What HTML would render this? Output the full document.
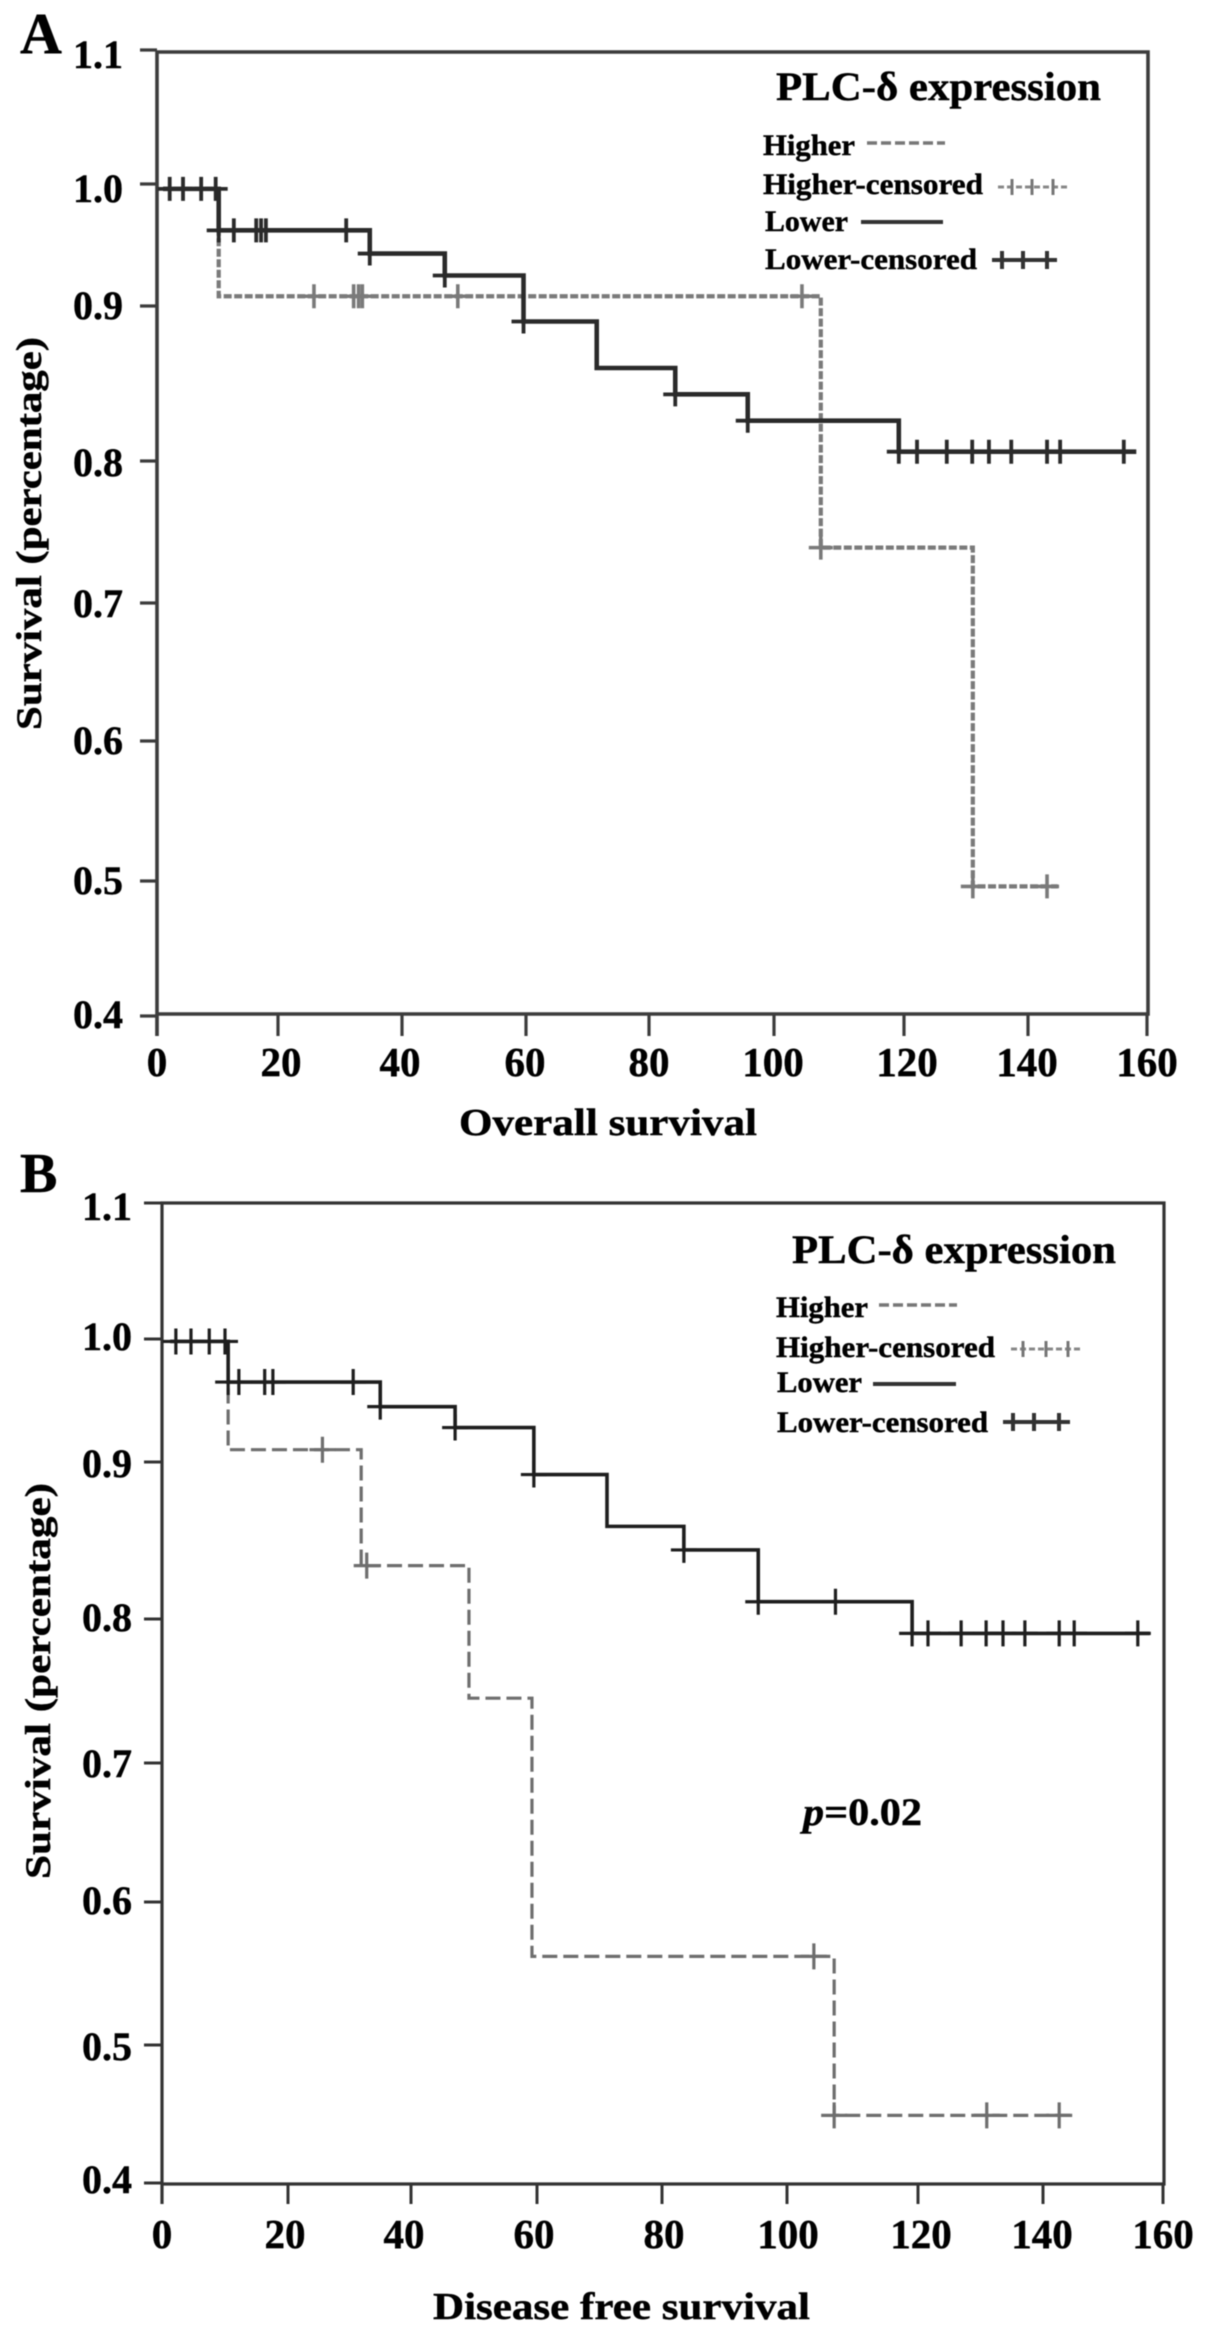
<!DOCTYPE html>
<html lang="en">
<head>
<meta charset="utf-8">
<title>PLC-δ expression survival curves</title>
<style>
html,body{margin:0;padding:0;background:#fff;}
svg{display:block;filter:blur(0.65px);}
text{font-family:"Liberation Serif","DejaVu Serif",serif;font-weight:bold;fill:#000;stroke:#000;stroke-width:0.45px;}
</style>
</head>
<body>
<svg id="figure" xmlns="http://www.w3.org/2000/svg" width="1205" height="2328" viewBox="0 0 1205 2328">
  <rect x="0" y="0" width="1205" height="2328" fill="#fff"/>

  <g id="panel-a">
    <text x="20" y="53" font-size="58">A</text>
    <text transform="rotate(-90 41 730)" x="41" y="730" font-size="36" textLength="393" lengthAdjust="spacingAndGlyphs">Survival (percentage)</text>
    <text x="459" y="1135" font-size="38" textLength="298" lengthAdjust="spacingAndGlyphs">Overall survival</text>
    <g>
      <text x="776" y="100" font-size="40" textLength="325" lengthAdjust="spacingAndGlyphs">PLC-δ expression</text>
      <text x="763" y="155" font-size="30" textLength="92" lengthAdjust="spacingAndGlyphs">Higher</text>
      <line x1="867" y1="143" x2="945" y2="143" stroke="#777" stroke-width="3.5" stroke-dasharray="10 4"/>
      <text x="763" y="194" font-size="30" textLength="220" lengthAdjust="spacingAndGlyphs">Higher-censored</text>
      <line x1="998" y1="187" x2="1068" y2="187" stroke="#888" stroke-width="3" stroke-dasharray="6 3"/>
      <path d="M1012 179V195M1032 179V195M1053 179V195" stroke="#777" stroke-width="3" fill="none"/>
      <text x="765" y="231" font-size="30" textLength="83" lengthAdjust="spacingAndGlyphs">Lower</text>
      <line x1="861" y1="222" x2="943" y2="222" stroke="#333" stroke-width="4"/>
      <text x="765" y="269" font-size="30" textLength="212" lengthAdjust="spacingAndGlyphs">Lower-censored</text>
      <line x1="992" y1="260" x2="1057" y2="260" stroke="#333" stroke-width="4"/>
      <path d="M1002 251V269M1023 251V269M1047 251V269" stroke="#333" stroke-width="4" fill="none"/>
    </g>
  </g>

  <g id="panel-b">
    <text x="20" y="1192" font-size="56">B</text>
    <text transform="rotate(-90 50 1879)" x="50" y="1879" font-size="36" textLength="396" lengthAdjust="spacingAndGlyphs">Survival (percentage)</text>
    <text x="433" y="2319" font-size="38" textLength="377" lengthAdjust="spacingAndGlyphs">Disease free survival</text>
    <text x="803" y="1825" font-size="39" textLength="119" lengthAdjust="spacingAndGlyphs"><tspan font-style="italic">p</tspan>=0.02</text>
    <g>
      <text x="792" y="1263" font-size="40" textLength="324" lengthAdjust="spacingAndGlyphs">PLC-δ expression</text>
      <text x="776" y="1317" font-size="30" textLength="92" lengthAdjust="spacingAndGlyphs">Higher</text>
      <line x1="879" y1="1305" x2="957" y2="1305" stroke="#777" stroke-width="3.5" stroke-dasharray="10 4"/>
      <text x="776" y="1357" font-size="30" textLength="219" lengthAdjust="spacingAndGlyphs">Higher-censored</text>
      <line x1="1011" y1="1349" x2="1081" y2="1349" stroke="#888" stroke-width="3" stroke-dasharray="6 3"/>
      <path d="M1023 1341V1357M1046 1341V1357M1068 1341V1357" stroke="#777" stroke-width="3" fill="none"/>
      <text x="777" y="1392" font-size="30" textLength="85" lengthAdjust="spacingAndGlyphs">Lower</text>
      <line x1="873" y1="1384" x2="956" y2="1384" stroke="#333" stroke-width="4"/>
      <text x="777" y="1432" font-size="30" textLength="211" lengthAdjust="spacingAndGlyphs">Lower-censored</text>
      <line x1="1003" y1="1422" x2="1070" y2="1422" stroke="#333" stroke-width="4"/>
      <path d="M1013 1413V1431M1034 1413V1431M1059 1413V1431" stroke="#333" stroke-width="4" fill="none"/>
    </g>
  </g>
</svg>

<script>
// ---- shared axis values ----
const xTickValues = [0, 20, 40, 60, 80, 100, 120, 140, 160];
const xTickLabels = ['0', '20', '40', '60', '80', '100', '120', '140', '160'];
const yTickValues = [1.1, 1.0, 0.9, 0.8, 0.7, 0.6, 0.5, 0.4];
const yTickLabels = ['1.1', '1.0', '0.9', '0.8', '0.7', '0.6', '0.5', '0.4'];

// ---- panel A: overall survival ----
const panelALowerTimes = [1, 10.2, 34.8, 46.9, 59.6, 71.5, 84.2, 95.8, 119.2, 158.2];
const panelALowerSurvival = [0.996, 0.962, 0.943, 0.925, 0.890, 0.860, 0.843, 0.826, 0.806, 0.806];
const panelALowerCensored = [2.1, 4.3, 7.3, 9.7, 10.2, 12.7, 16.4, 17.2, 18, 31, 34.8, 46.9, 59.6, 84.2, 95.8, 119.2, 122.1, 126.9, 131, 133.7, 137.3, 143.2, 145.4, 156.1];
const panelAHigherTimes = [1, 10.2, 107.2, 131.1, 145];
const panelAHigherSurvival = [0.996, 0.908, 0.739, 0.496, 0.496];
const panelAHigherCensored = [25.8, 32.2, 33, 33.6, 49, 104.3, 107.2, 131.1, 143.2];

// ---- panel B: disease free survival ----
const panelBLowerTimes = [1.3, 10.5, 35, 47, 59.5, 71.2, 83.5, 95.4, 119.1, 157.8];
const panelBLowerSurvival = [0.998, 0.965, 0.945, 0.928, 0.892, 0.859, 0.844, 0.811, 0.790, 0.790];
const panelBLowerCensored = [2.2, 4.6, 7.5, 10, 10.5, 12.2, 16.3, 17.6, 30.6, 35, 47, 59.5, 83.5, 95.4, 107.4, 119.1, 121.6, 126.9, 130.9, 133.6, 137.1, 142.7, 145.2, 155.8];
const panelBHigherTimes = [1.3, 10.5, 31.9, 49.2, 59.2, 107.2, 144.8];
const panelBHigherSurvival = [0.998, 0.910, 0.834, 0.745, 0.562, 0.449, 0.449];
const panelBHigherCensored = [25.6, 32.8, 104.1, 107.2, 131, 142.7];

const SVGNS = 'http://www.w3.org/2000/svg';

// Axis function: the scanned axes are slightly uneven, so each one is calibrated at its ticks.
function makeAxis(values, pixels) {
  const pairs = values.map(function (v, i) { return [v, pixels[i]]; }).sort(function (a, b) { return a[0] - b[0]; });
  return function (v) {
    let i = 0;
    while (i < pairs.length - 2 && v > pairs[i + 1][0]) i++;
    const a = pairs[i], b = pairs[i + 1];
    return a[1] + (v - a[0]) / (b[0] - a[0]) * (b[1] - a[1]);
  };
}

function levelAt(times, survival, t) {
  let level = survival[0];
  for (let i = 0; i < times.length; i++) {
    if (t >= times[i]) level = survival[i];
  }
  return level;
}

function make(tag, parent, props) {
  const el = document.createElementNS(SVGNS, tag);
  Object.keys(props).forEach(function (k) { el.setAttribute(k, props[k]); });
  parent.appendChild(el);
  return el;
}

function drawFrame(group, frame, x, y, prefix) {
  const box = make('path', group, {
    d: 'M' + frame.left + ' ' + frame.tickBottom + 'V' + frame.top + 'H' + frame.right + 'V' + frame.bottom + 'H' + frame.left,
    fill: 'none', stroke: frame.axisColor, 'stroke-width': frame.axisWidth
  });
  
  

  xTickValues.forEach(function (v, i) {
    const px = x(v);
    const tick = make('line', group, {
      x1: px, x2: px, y1: frame.bottom, y2: frame.tickBottom,
      stroke: frame.axisColor, 'stroke-width': frame.tickWidth
    });
    
    
    const label = make('text', group, {
      x: px + frame.xLabelShift[i], y: frame.xLabelBaseline,
      'font-size': frame.xTickFont, 'text-anchor': 'middle'
    });
    label.textContent = xTickLabels[i];
    
    
  });

  yTickValues.forEach(function (v, i) {
    const py = y(v);
    const tick = make('line', group, {
      x1: frame.tickLeft, x2: frame.left, y1: py, y2: py,
      stroke: frame.axisColor, 'stroke-width': frame.tickWidth
    });
    
    
    const label = make('text', group, {
      x: frame.yLabelRight, y: py + frame.yLabelShift[i],
      'font-size': frame.yTickFont, 'text-anchor': 'end'
    });
    label.textContent = yTickLabels[i];
    
    
  });
}

function drawCurve(group, times, survival, x, y, style, name) {
  let d = 'M' + x(times[0]) + ' ' + y(survival[0]);
  for (let i = 1; i < times.length; i++) {
    d += 'H' + x(times[i]) + 'V' + y(survival[i]);
  }
  const curve = make('path', group, {
    d: d, fill: 'none', stroke: style.color, 'stroke-width': style.width,
    'stroke-dasharray': style.dash, 'stroke-linejoin': 'miter'
  });
  
  
}

function drawCensored(group, censored, times, survival, x, y, style, name) {
  censored.forEach(function (t) {
    const px = x(t);
    const py = y(levelAt(times, survival, t));
    const mark = make('path', group, {
      d: 'M' + (px - style.size) + ' ' + py + 'H' + (px + style.size) + 'M' + px + ' ' + (py - style.size) + 'V' + (py + style.size),
      fill: 'none', stroke: style.color, 'stroke-width': style.markWidth
    });
    
    
  });
}

// ---- panel A drawing ----
const frameA = {
  left: 157, right: 1148, top: 52, bottom: 1014, tickLeft: 140, tickBottom: 1036,
  axisColor: '#3c3c3c', axisWidth: 3.6, tickWidth: 3.2, xTickFont: 41, yTickFont: 40,
  xLabelBaseline: 1076, yLabelRight: 123,
  xLabelShift: [0, 3, -2, -1, 0, -1, 3, -1, 0],
  yLabelShift: [18, 18, 13, 15, 14, 13, 13, 12]
};
const xA = makeAxis(xTickValues, [157, 278, 402, 526, 649, 774, 904, 1028, 1147]);
const yA = makeAxis(yTickValues, [50, 184, 306, 461, 603, 741, 881, 1016]);
const groupA = document.getElementById('panel-a');
const higherStyleA = { color: '#7a7a7a', width: 4.2, dash: '8 2.5', size: 12, markWidth: 3.6 };
const lowerStyleA = { color: '#2a2a2a', width: 4.6, dash: 'none', size: 12, markWidth: 3.8 };

drawFrame(groupA, frameA, xA, yA, 'panel-a');
drawCurve(groupA, panelAHigherTimes, panelAHigherSurvival, xA, yA, higherStyleA, 'panel-a-higher-curve');
drawCensored(groupA, panelAHigherCensored, panelAHigherTimes, panelAHigherSurvival, xA, yA, higherStyleA, 'panel-a-higher-censored-mark');
drawCurve(groupA, panelALowerTimes, panelALowerSurvival, xA, yA, lowerStyleA, 'panel-a-lower-curve');
drawCensored(groupA, panelALowerCensored, panelALowerTimes, panelALowerSurvival, xA, yA, lowerStyleA, 'panel-a-lower-censored-mark');

// ---- panel B drawing ----
const frameB = {
  left: 162, right: 1164, top: 1203, bottom: 2184, tickLeft: 144, tickBottom: 2204,
  axisColor: '#333333', axisWidth: 3.2, tickWidth: 3, xTickFont: 41, yTickFont: 40,
  xLabelBaseline: 2248, yLabelRight: 132,
  xLabelShift: [0, -3, -7, -3, 2, 1, 3, -1, 0],
  yLabelShift: [17, 11, 15, 12, 14, 12, 15, 10]
};
const xB = makeAxis(xTickValues, [162, 288, 411, 537, 662, 787, 918, 1043, 1163]);
const yB = makeAxis(yTickValues, [1203, 1339, 1462, 1619, 1763, 1902, 2045, 2183]);
const groupB = document.getElementById('panel-b');
const higherStyleB = { color: '#6e6e6e', width: 3.2, dash: '15 6', size: 13, markWidth: 3.2 };
const lowerStyleB = { color: '#1e1e1e', width: 3.6, dash: 'none', size: 13, markWidth: 3.2 };

drawFrame(groupB, frameB, xB, yB, 'panel-b');
drawCurve(groupB, panelBHigherTimes, panelBHigherSurvival, xB, yB, higherStyleB, 'panel-b-higher-curve');
drawCensored(groupB, panelBHigherCensored, panelBHigherTimes, panelBHigherSurvival, xB, yB, higherStyleB, 'panel-b-higher-censored-mark');
drawCurve(groupB, panelBLowerTimes, panelBLowerSurvival, xB, yB, lowerStyleB, 'panel-b-lower-curve');
drawCensored(groupB, panelBLowerCensored, panelBLowerTimes, panelBLowerSurvival, xB, yB, lowerStyleB, 'panel-b-lower-censored-mark');
</script>
</body>
</html>
